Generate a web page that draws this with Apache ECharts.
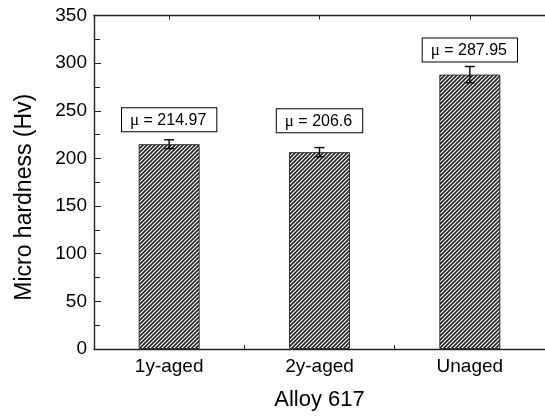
<!DOCTYPE html>
<html>
<head>
<meta charset="utf-8">
<script src="https://cdn.jsdelivr.net/npm/echarts@6/dist/echarts.min.js"></script>
<style>
  html, body { margin: 0; padding: 0; background: #fff; }
  #chart { width: 545px; height: 416px; }
</style>
</head>
<body>
<div id="chart"></div>
<script>
// values
var categories = ['1y-aged', '2y-aged', 'Unaged'];
var hardness = [214.97, 206.6, 287.95];
var errors = [4.6, 4.8, 8.5];
var meanLabels = ['214.97', '206.6', '287.95'];
var yTicks = [0, 50, 100, 150, 200, 250, 300, 350];

// gap between bar top and the mean box (px)
var labelGap = [13, 20, 13];

var fontMain = '"Liberation Sans", Arial, sans-serif';

// diagonal hatch fill
function hatch() {
  var c = document.createElement('canvas');
  c.width = 4; c.height = 4;
  var g = c.getContext('2d');
  g.fillStyle = '#fff';
  g.fillRect(0, 0, 4, 4);
  g.strokeStyle = '#222';
  g.lineWidth = 1.6;
  g.beginPath();
  g.moveTo(0, 4); g.lineTo(4, 0);
  g.moveTo(-1, 1); g.lineTo(1, -1);
  g.moveTo(3, 5); g.lineTo(5, 3);
  g.stroke();
  return c;
}
var pattern = { image: hatch(), repeat: 'repeat' };

var barData = hardness.map(function (v, i) {
  return {
    value: v,
    label: {
      show: true,
      position: 'top',
      distance: labelGap[i],
      formatter: '{m|\u03bc} = ' + meanLabels[i],
      fontFamily: fontMain,
      fontSize: 16,
      color: '#000',
      lineHeight: 18,
      padding: [3, 10, 2, 8],
      borderColor: '#000',
      borderWidth: 1,
      backgroundColor: '#fff',
      rich: {
        m: { fontFamily: '"Liberation Serif", "Times New Roman", serif', fontSize: 17, lineHeight: 18 }
      }
    }
  };
});

var errData = hardness.map(function (v, i) {
  return [i, v - errors[i], v + errors[i]];
});

var myChart = echarts.init(document.getElementById('chart'));

var option = {
  animation: false,
  backgroundColor: '#fff',
  grid: { left: 94, right: 0, top: 15.5, bottom: 66 },
  xAxis: [{
    type: 'category',
    data: categories,
    position: 'bottom',
    name: 'Alloy 617',
    nameLocation: 'middle',
    nameGap: 40,
    nameTextStyle: { fontFamily: fontMain, fontSize: 22, color: '#000' },
    axisLine: { lineStyle: { color: '#222', width: 1.4 } },
    axisTick: { show: true, inside: true, length: 4, lineStyle: { color: '#222' } },
    axisLabel: { fontFamily: fontMain, fontSize: 19, color: '#000', margin: 8 },
    splitLine: { show: false }
  }, {
    type: 'category',
    data: categories,
    position: 'top',
    axisLine: { lineStyle: { color: '#222', width: 1.4 } },
    axisTick: { show: true, inside: true, alignWithLabel: true, length: 4, lineStyle: { color: '#222' } },
    axisLabel: { show: false },
    splitLine: { show: false }
  }],
  yAxis: {
    type: 'value',
    min: yTicks[0],
    max: yTicks[yTicks.length - 1],
    interval: 50,
    name: 'Micro hardness (Hv)',
    nameLocation: 'middle',
    nameGap: 58,
    nameTextStyle: { fontFamily: fontMain, fontSize: 23, color: '#000', padding: [0, 30, 0, 0] },
    axisLine: { show: true, lineStyle: { color: '#222', width: 1.4 } },
    axisTick: { show: true, inside: true, length: 7, lineStyle: { color: '#222' } },
    minorTick: { show: true, splitNumber: 2, length: 6, lineStyle: { color: '#222' } },
    axisLabel: { fontFamily: fontMain, fontSize: 19, color: '#000', margin: 7 },
    splitLine: { show: false }
  },
  series: [{
    name: 'Micro hardness',
    type: 'bar',
    xAxisIndex: 0,
    barWidth: 61,
    itemStyle: { color: pattern, borderColor: '#333', borderWidth: 1 },
    data: barData,
    z: 2
  }, {
    name: 'error',
    type: 'custom',
    xAxisIndex: 0,
    encode: { x: 0, y: [1, 2] },
    data: errData,
    z: 3,
    renderItem: function (params, api) {
      var x = api.value(0);
      var lo = api.coord([x, api.value(1)]);
      var hi = api.coord([x, api.value(2)]);
      var w = 5;
      var st = { stroke: '#000', lineWidth: 1.4 };
      return {
        type: 'group',
        children: [
          { type: 'line', shape: { x1: hi[0], y1: hi[1], x2: lo[0], y2: lo[1] }, style: st },
          { type: 'line', shape: { x1: hi[0] - w, y1: hi[1], x2: hi[0] + w, y2: hi[1] }, style: st },
          { type: 'line', shape: { x1: lo[0] - w, y1: lo[1], x2: lo[0] + w, y2: lo[1] }, style: st }
        ]
      };
    }
  }]
};

myChart.setOption(option, true);
</script>
</body>
</html>
